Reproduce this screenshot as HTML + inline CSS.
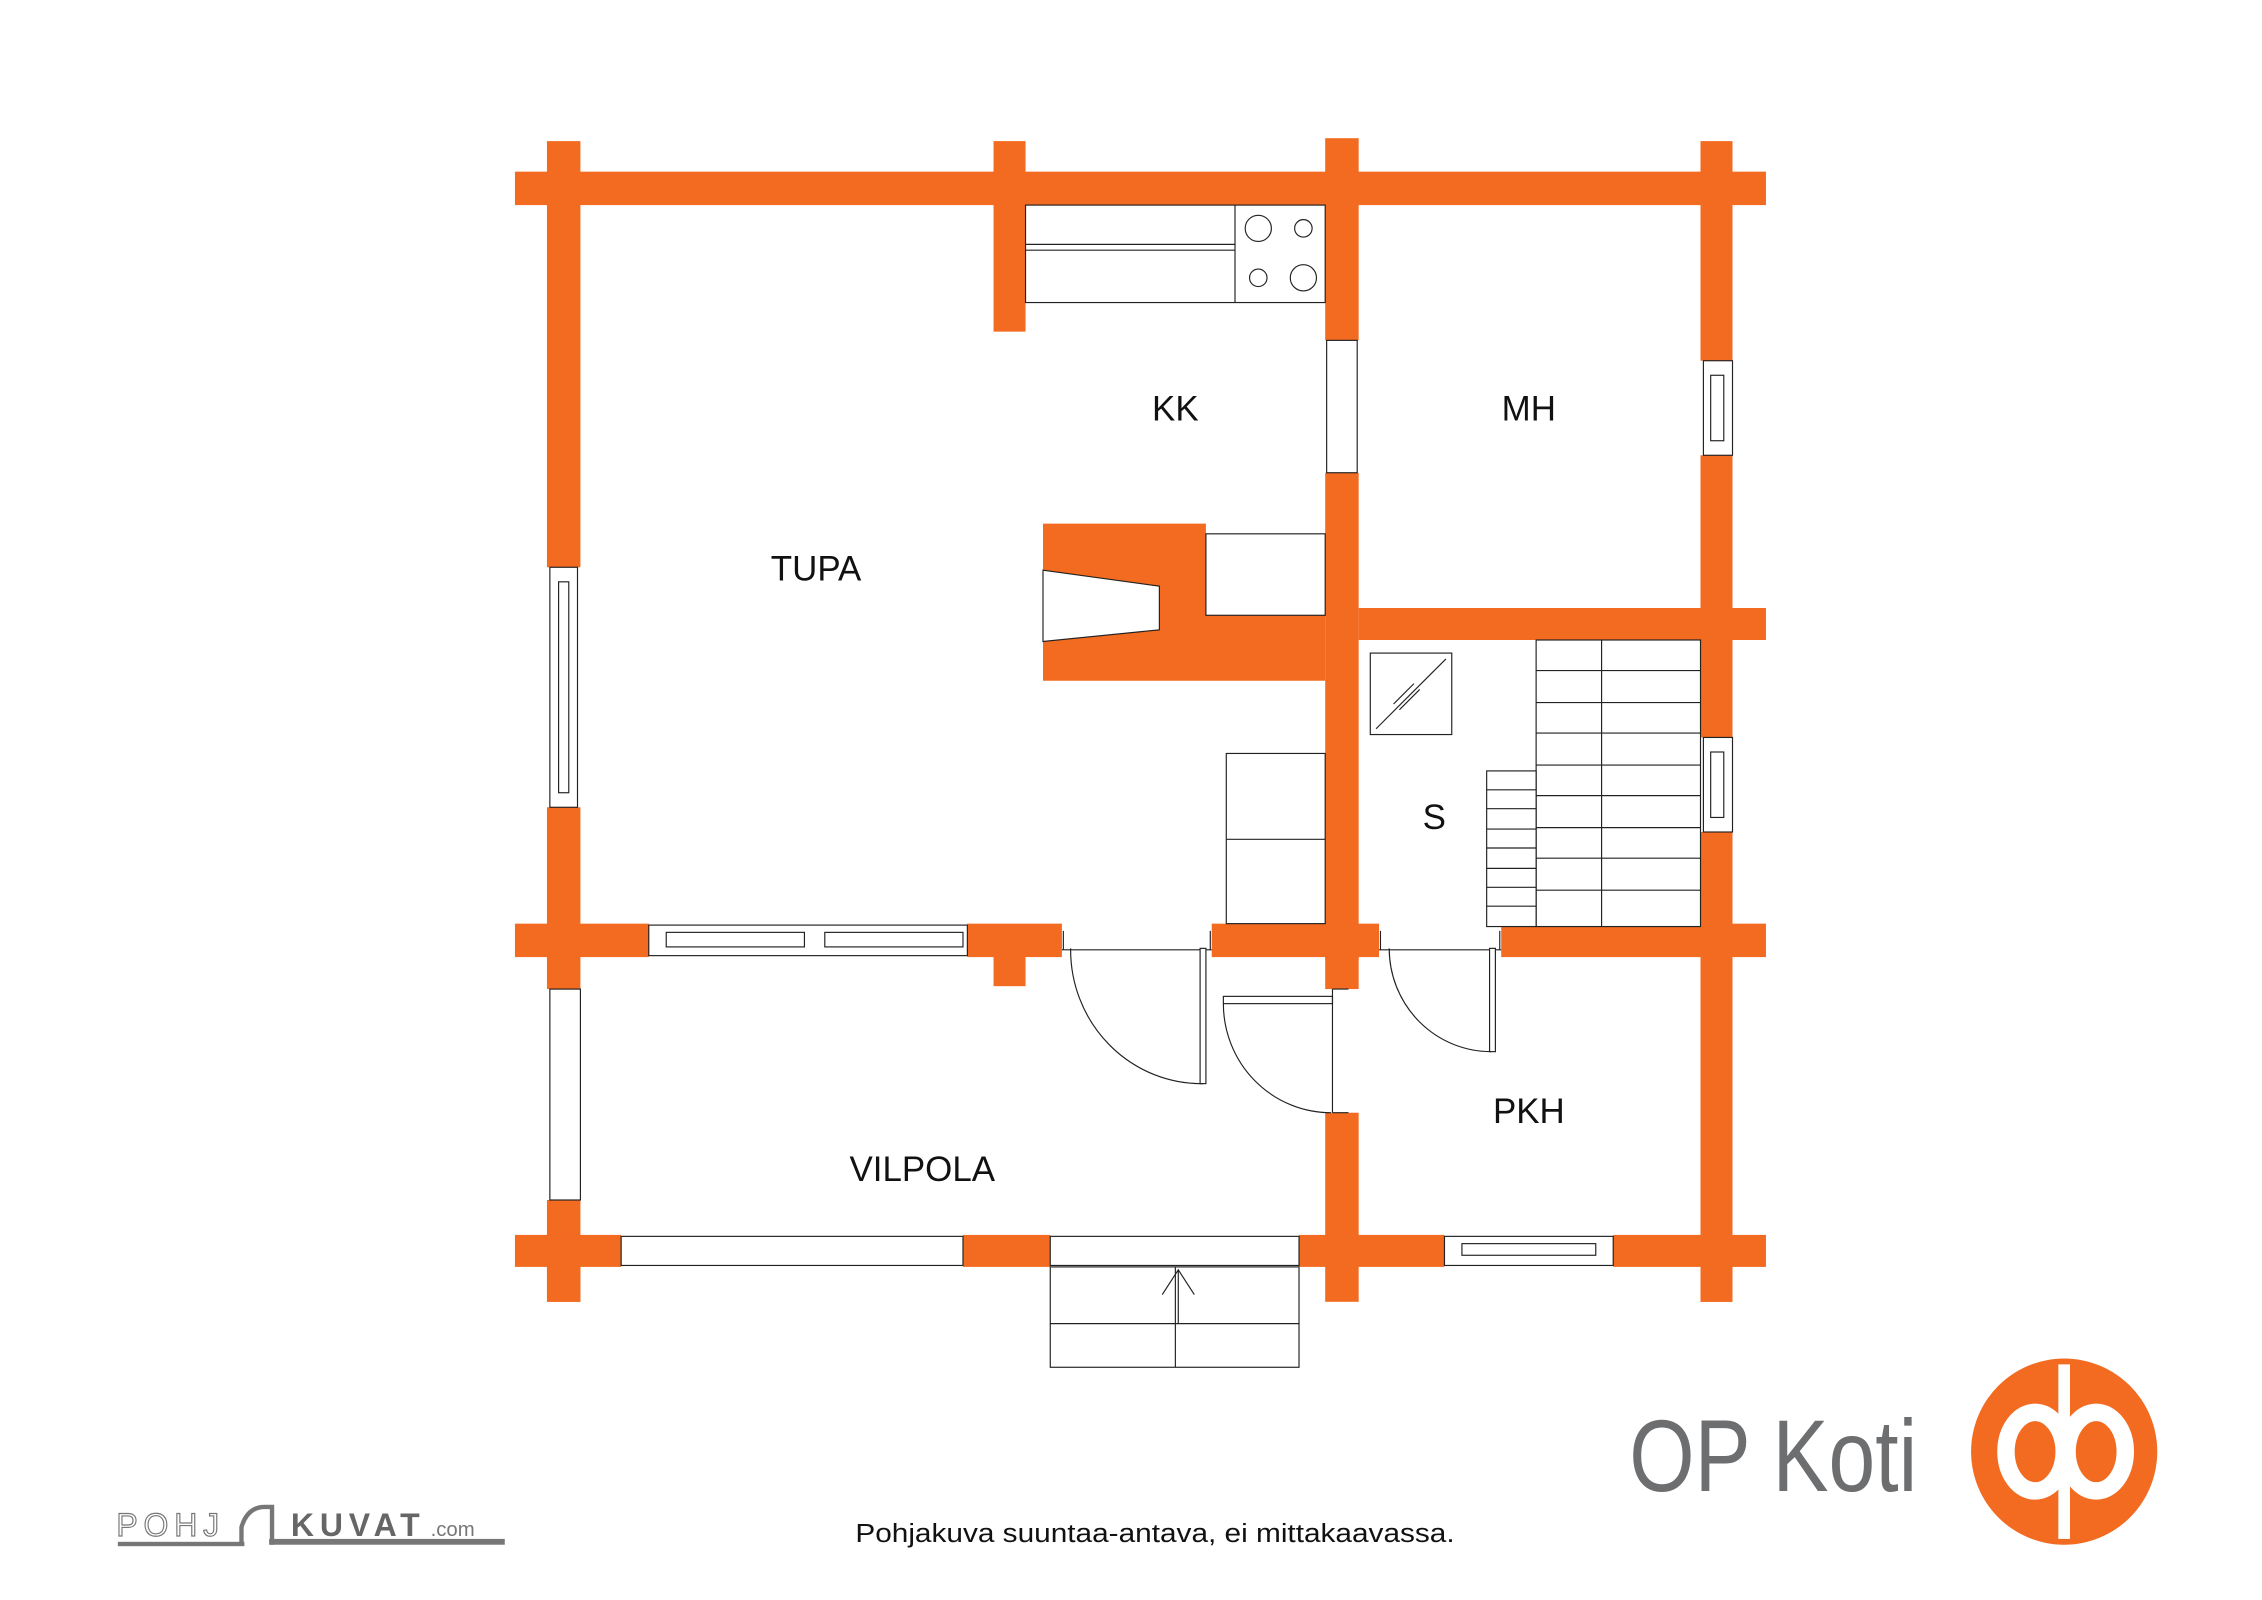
<!DOCTYPE html>
<html><head><meta charset="utf-8"><style>html,body{margin:0;padding:0;background:#fff}svg{display:block}</style></head>
<body>
<svg width="2262" height="1600" viewBox="0 0 1555 1100" preserveAspectRatio="none" xmlns="http://www.w3.org/2000/svg" font-family="Liberation Sans, sans-serif">
<rect width="1555" height="1100" fill="#fff"/>
<g fill="#F26B21">
<rect x="354" y="118" width="860" height="23"/>
<rect x="376" y="97" width="23" height="44"/>
<rect x="683" y="97" width="22" height="131"/>
<rect x="911" y="95" width="23" height="139"/>
<rect x="1169" y="97" width="22" height="151"/>
<rect x="376" y="118" width="23" height="272"/>
<rect x="376" y="555" width="23" height="125"/>
<rect x="376" y="825" width="23" height="70"/>
<rect x="354" y="635" width="92" height="23"/>
<rect x="665" y="635" width="65" height="23"/>
<rect x="683" y="655" width="22" height="23"/>
<rect x="833" y="635" width="115" height="23"/>
<rect x="911" y="655" width="23" height="25"/>
<rect x="1032" y="635" width="182" height="23"/>
<rect x="354" y="849" width="73" height="22"/>
<rect x="662" y="849" width="60" height="22"/>
<rect x="893" y="849" width="100" height="22"/>
<rect x="1109" y="849" width="105" height="22"/>
<rect x="376" y="849" width="23" height="46"/>
<rect x="911" y="765" width="23" height="130"/>
<rect x="1169" y="849" width="22" height="46"/>
<rect x="1169" y="313" width="22" height="194"/>
<rect x="1169" y="572" width="22" height="323"/>
<rect x="911" y="325" width="23" height="335"/>
<rect x="934" y="418" width="280" height="22"/>
<polygon points="717,360 829,360 829,423 911,423 911,468 717,468"/>
</g>
<g fill="#fff" stroke="#222" stroke-width="0.8">
<polygon points="717,392 797,403 797,433 717,441"/>
<rect x="829" y="367" width="82" height="56"/>
<rect x="378" y="390" width="19" height="165"/>
<rect x="384" y="400" width="7" height="145" fill="none"/>
<rect x="378" y="680" width="21" height="145"/>
<rect x="446" y="636" width="219" height="21"/>
<rect x="458" y="641" width="95" height="10" fill="none"/>
<rect x="567" y="641" width="95" height="10" fill="none"/>
<rect x="427" y="850" width="235" height="20"/>
<rect x="722" y="850" width="171" height="20"/>
<rect x="993" y="850" width="116" height="20"/>
<rect x="1005" y="855" width="92" height="8" fill="none"/>
<rect x="1171" y="248" width="20" height="65"/>
<rect x="1176" y="258" width="9" height="45" fill="none"/>
<rect x="1171" y="507" width="20" height="65"/>
<rect x="1176" y="517" width="9" height="45" fill="none"/>
<rect x="912" y="234" width="21" height="91"/>
<rect x="705" y="141" width="206" height="67"/>
<line x1="849" y1="141" x2="849" y2="208"/>
<line x1="705" y1="168" x2="849" y2="168"/>
<line x1="705" y1="172" x2="849" y2="172"/>
<circle cx="865" cy="157" r="9"/><circle cx="896" cy="157" r="6"/>
<circle cx="865" cy="191" r="6"/><circle cx="896" cy="191" r="9"/>
<rect x="843" y="518" width="68" height="117"/>
<line x1="843" y1="577" x2="911" y2="577"/>
<rect x="942" y="449" width="56" height="56"/>
<line x1="946" y1="501" x2="994" y2="453"/>
<line x1="958" y1="484" x2="972" y2="470"/>
<line x1="962" y1="488" x2="976" y2="474"/>
<rect x="1056" y="440" width="113" height="197"/>
<line x1="1101" y1="440" x2="1101" y2="637"/>
<rect x="1022" y="530" width="34" height="107"/>
<rect x="722" y="871" width="171" height="69"/>
<line x1="722" y1="910" x2="893" y2="910"/>
<line x1="808" y1="871" x2="808" y2="940"/>
</g>
<g stroke="#222" stroke-width="0.8" fill="none">
<path d="M1056 461H1169M1056 483H1169M1056 504H1169M1056 526H1169M1056 547H1169M1056 569H1169M1056 590H1169M1056 612H1169"/>
<path d="M1022 543H1056M1022 556H1056M1022 570H1056M1022 583H1056M1022 597H1056M1022 610H1056M1022 623H1056"/>
<path d="M799 890L810 873L821 890M810 873V910"/>
<path d="M730 653H833M731 640V653M832 640V653"/>
<rect x="825" y="652" width="4" height="93" fill="#fff"/>
<path d="M736 652A90 92 0 0 0 827 745"/>
<path d="M948 653H1032M949 640V653M1031 640V653"/>
<rect x="1024" y="652" width="4" height="71" fill="#fff"/>
<path d="M955 652A70 71 0 0 0 1025 723"/>
<rect x="841" y="685" width="75" height="5" fill="#fff"/>
<path d="M841 690A74 75 0 0 0 915 765"/>
<path d="M916 680V765M916 680H927M916 765H927"/>
</g>
<g font-size="24" text-anchor="middle" fill="#111">
<text x="561" y="399">TUPA</text>
<text x="808" y="289">KK</text>
<text x="1051" y="289">MH</text>
<text x="986" y="570">S</text>
<text x="1051" y="772">PKH</text>
<text x="634" y="812">VILPOLA</text>
</g>
<text x="588" y="1060" font-size="18" fill="#111" textLength="412" lengthAdjust="spacingAndGlyphs">Pohjakuva suuntaa-antava, ei mittakaavassa.</text>
<text x="1120" y="1025" font-size="70" fill="#6d6e70" textLength="198" lengthAdjust="spacingAndGlyphs">OP Koti</text>
<circle cx="1419" cy="998" r="64" fill="#F26B21"/>
<ellipse cx="1399" cy="998" rx="20" ry="27" fill="none" stroke="#fff" stroke-width="12"/>
<ellipse cx="1441" cy="998" rx="20" ry="27" fill="none" stroke="#fff" stroke-width="12"/>
<rect x="1415" y="938" width="8" height="120" fill="#fff"/>
<text x="80" y="1056" font-size="22" fill="none" stroke="#777" stroke-width="0.8" letter-spacing="4">POHJ</text>
<path d="M166 1062V1050Q170 1036 182 1036H187V1062" fill="none" stroke="#777" stroke-width="3"/>
<text x="200" y="1056" font-size="22" font-weight="bold" fill="#666" letter-spacing="4">KUVAT</text>
<text x="296" y="1056" font-size="14" fill="#777">.com</text>
<rect x="81" y="1060" width="87" height="3" fill="#777"/>
<rect x="185" y="1058" width="162" height="4" fill="#777"/>
</svg>
</body></html>
